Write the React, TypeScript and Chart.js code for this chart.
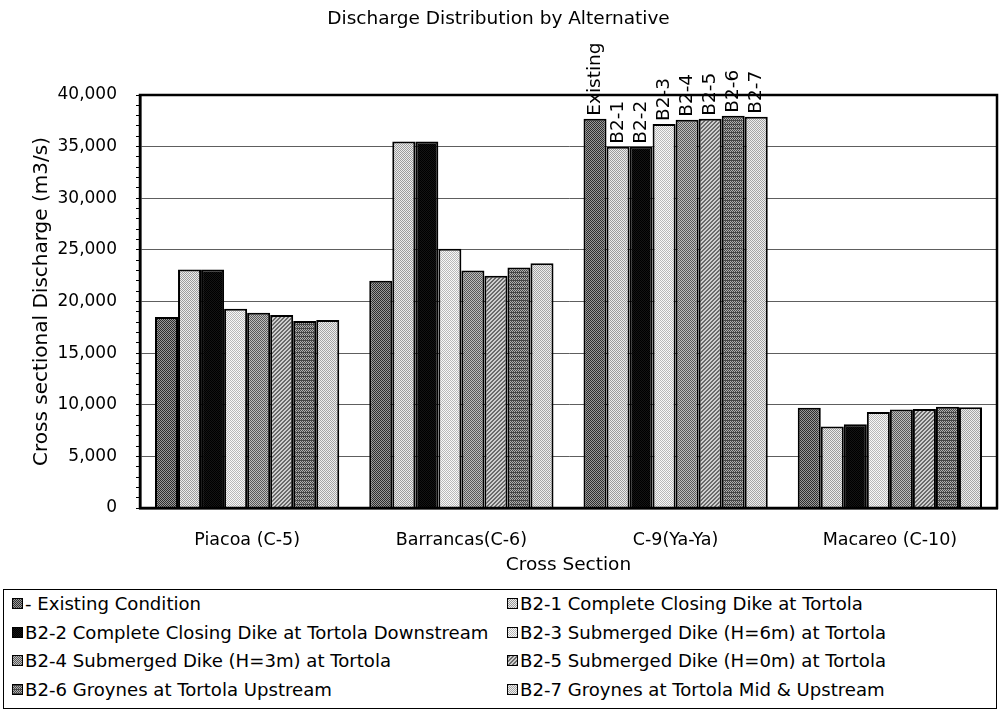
import React, { useEffect, useRef, useState } from "react";
import { Chart, registerables } from "chart.js";

Chart.register(...registerables);

const CHART_TITLE = "Discharge Distribution by Alternative";
const Y_TITLE = "Cross sectional Discharge (m3/s)";
const X_TITLE = "Cross Section";

const categories = ["Piacoa (C-5)", "Barrancas(C-6)", "C-9(Ya-Ya)", "Macareo (C-10)"];

const seriesNames = [
  "- Existing Condition",
  "B2-1 Complete Closing Dike at Tortola",
  "B2-2 Complete Closing Dike at Tortola Downstream",
  "B2-3 Submerged Dike (H=6m) at Tortola",
  "B2-4 Submerged Dike (H=3m) at Tortola",
  "B2-5 Submerged Dike (H=0m) at Tortola",
  "B2-6 Groynes at Tortola Upstream",
  "B2-7 Groynes at Tortola Mid & Upstream",
];

const barLabels = ["Existing", "B2-1", "B2-2", "B2-3", "B2-4", "B2-5", "B2-6", "B2-7"];
const labelledCategory = 2;

const existing = [18500, 22000, 37700, 9700];
const b2_1 = [23100, 35500, 35000, 7900];
const b2_2 = [23100, 35500, 35000, 8100];
const b2_3 = [19300, 25100, 37200, 9300];
const b2_4 = [18900, 23000, 37600, 9550];
const b2_5 = [18700, 22500, 37700, 9600];
const b2_6 = [18100, 23300, 38000, 9800];
const b2_7 = [18200, 23700, 37900, 9750];

const seriesValues = [existing, b2_1, b2_2, b2_3, b2_4, b2_5, b2_6, b2_7];

// two-tone dither colours per series [dark, light], and pattern kind
const seriesTones: [string, string][] = [
  ["#2e2e2e", "#9a9a9a"],
  ["#9c9c9c", "#ececec"],
  ["#000000", "#141414"],
  ["#b8b8b8", "#f8f8f8"],
  ["#585858", "#bdbdbd"],
  ["#6a6a6a", "#cfcfcf"],
  ["#474747", "#b0b0b0"],
  ["#a4a4a4", "#ededed"],
];
const seriesKinds = ["checker", "checker", "checker", "checker", "checker", "diagonal", "rows", "checker"];

const yMin = 0;
const yMax = 40000;
const yMajor = 5000;
const yMinor = 1000;

const FONT = '"DejaVu Sans", "Liberation Sans", sans-serif';

function makeTile(i: number): HTMLCanvasElement {
  const c = document.createElement("canvas");
  c.width = 4;
  c.height = 4;
  const g = c.getContext("2d")!;
  const [d, l] = seriesTones[i];
  const kind = seriesKinds[i];
  for (let y = 0; y < 4; y++) {
    for (let x = 0; x < 4; x++) {
      let dark: boolean;
      if (kind === "diagonal") dark = (x + y) % 4 < 2;
      else if (kind === "rows") dark = (x + y) % 2 === 0 || y % 4 === 0;
      else dark = (x + y) % 2 === 0;
      g.fillStyle = dark ? d : l;
      g.fillRect(x, y, 1, 1);
    }
  }
  return c;
}

const overlayPlugin = {
  id: "overlay",
  afterDraw(chart: any) {
    const { ctx, chartArea: a } = chart;
    ctx.save();
    ctx.strokeStyle = "#000";
    ctx.lineWidth = 2.5;
    ctx.strokeRect(a.left, a.top, a.right - a.left, a.bottom - a.top);
    ctx.fillStyle = "#000";
    ctx.font = `18.5px ${FONT}`;
    ctx.textAlign = "left";
    ctx.textBaseline = "middle";
    chart.data.datasets.forEach((_ds: any, i: number) => {
      const meta = chart.getDatasetMeta(i);
      const bar = meta.data[labelledCategory];
      if (!bar) return;
      ctx.save();
      ctx.translate(bar.x, bar.y - 3);
      ctx.rotate(-Math.PI / 2);
      ctx.fillText(barLabels[i], 0, 0);
      ctx.restore();
    });
    ctx.restore();
  },
};

export default function App() {
  const ref = useRef<HTMLCanvasElement | null>(null);
  const [swatches, setSwatches] = useState<string[]>([]);

  useEffect(() => {
    if (!ref.current) return;
    const tiles = seriesNames.map((_n, i) => makeTile(i));
    setSwatches(tiles.map((t) => t.toDataURL()));
    const ctx2d = ref.current.getContext("2d")!;
    const fills = tiles.map((t) => ctx2d.createPattern(t, "repeat"));
    const chart = new Chart(ref.current, {
      type: "bar",
      data: {
        labels: categories,
        datasets: seriesNames.map((name, i) => ({
          label: name,
          data: seriesValues[i],
          backgroundColor: fills[i],
          borderColor: "#000",
          borderWidth: 2,
          categoryPercentage: 0.86,
          barPercentage: 1.0,
        })),
      },
      options: {
        responsive: false,
        animation: false,
        devicePixelRatio: 1,
        layout: { padding: { left: 0, right: 4, top: 0, bottom: 0 } },
        plugins: {
          legend: { display: false },
          tooltip: { enabled: false },
          title: {
            display: true,
            text: CHART_TITLE,
            color: "#000",
            font: { family: FONT, size: 18.5, weight: "normal" },
            padding: { top: 8, bottom: 64.8 },
          },
        },
        scales: {
          x: {
            grid: { display: false },
            border: { display: true, color: "#000", width: 2.5 },
            ticks: { color: "#000", font: { family: FONT, size: 17.5 }, padding: 14 },
            title: {
              display: true,
              text: X_TITLE,
              color: "#000",
              font: { family: FONT, size: 18.5 },
              padding: { top: 0, bottom: 9 },
            },
            afterFit: (s: any) => {
              s.height = 77;
            },
          },
          y: {
            min: yMin,
            max: yMax,
            grid: {
              color: (c: any) =>
                c.tick && c.tick.value % yMajor === 0 && c.tick.value !== yMin && c.tick.value !== yMax
                  ? "#5e5e5e"
                  : "rgba(0,0,0,0)",
              tickColor: "#000",
              tickLength: 4,
              lineWidth: 1,
            },
            border: { display: true, color: "#000", width: 2.5 },
            ticks: {
              stepSize: yMinor,
              maxTicksLimit: 41,
              autoSkip: false,
              color: "#000",
              font: { family: FONT, size: 17 },
              padding: 19,
              callback: (v: any) => (Number(v) % yMajor === 0 ? Number(v).toLocaleString("en-US") : ""),
            },
            title: {
              display: true,
              text: Y_TITLE,
              color: "#000",
              font: { family: FONT, size: 20 },
              padding: { top: 30, bottom: 0 },
            },
            afterFit: (s: any) => {
              s.width = 140;
            },
          },
        },
      },
      plugins: [overlayPlugin],
    } as any);
    return () => chart.destroy();
  }, []);

  const rowCenters = [13, 42, 70.5, 99];
  return (
    <div style={{ position: "absolute", left: 0, top: 0, width: 1001, height: 713, background: "#fff" }}>
      <canvas ref={ref} width={1001} height={585} style={{ display: "block" }} />
      <div
        style={{
          position: "absolute",
          left: 3,
          top: 589,
          width: 994,
          height: 120,
          border: "1px solid #000",
          boxSizing: "border-box",
          fontFamily: FONT,
          fontSize: 18.1,
          color: "#000",
        }}
      >
        {seriesNames.map((name, i) => {
          const col = i % 2;
          const row = Math.floor(i / 2);
          return (
            <div
              key={name}
              style={{
                position: "absolute",
                left: col === 0 ? 8 : 503,
                top: rowCenters[row] - 11,
                height: 22,
                display: "flex",
                alignItems: "center",
                whiteSpace: "nowrap",
              }}
            >
              <span
                style={{
                  display: "inline-block",
                  width: 11,
                  height: 11,
                  border: "1px solid #000",
                  boxSizing: "border-box",
                  backgroundColor: "#888",
                  backgroundImage: swatches[i] ? `url(${swatches[i]})` : undefined,
                  backgroundRepeat: "repeat",
                  marginRight: 2,
                }}
              />
              <span>{name}</span>
            </div>
          );
        })}
      </div>
    </div>
  );
}
